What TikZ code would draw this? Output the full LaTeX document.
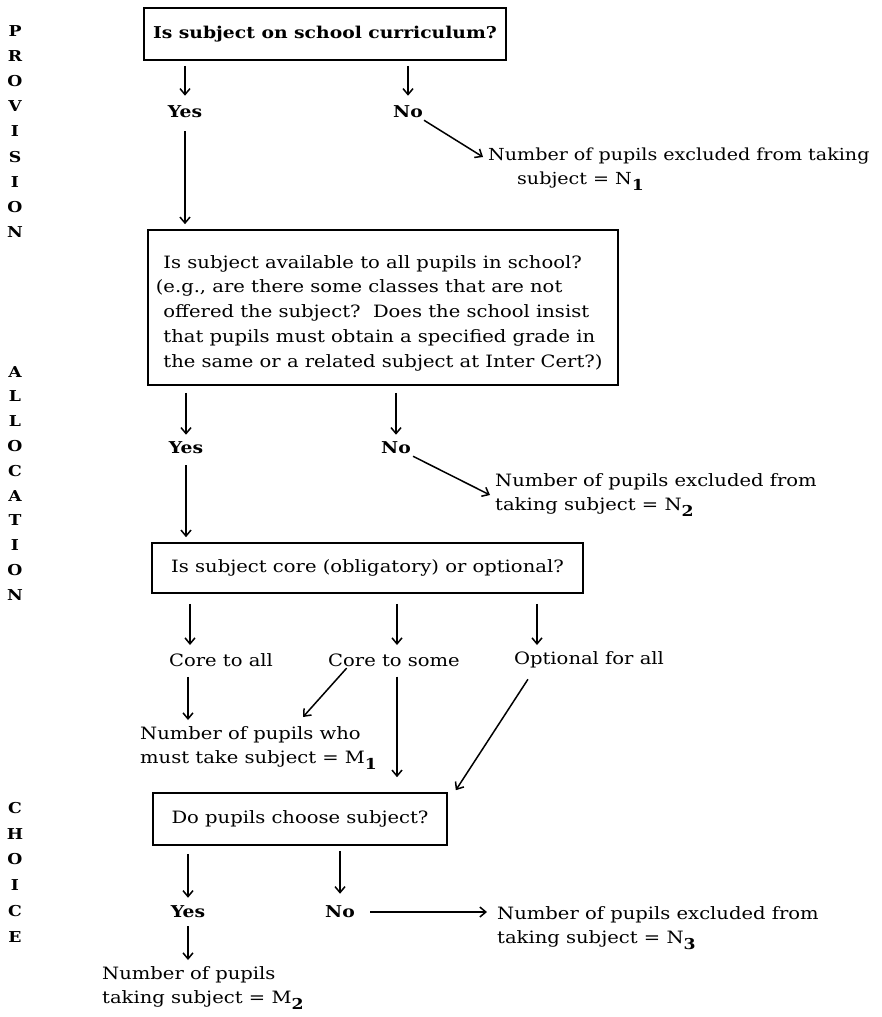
\documentclass[tikz,border=0pt]{standalone}
\usepackage{fontspec}
\setmainfont[FakeStretch=1.15]{DejaVu Serif}
\usetikzlibrary{arrows.meta,calc}
\newcommand{\subn}[1]{\raisebox{-6pt}{\fontsize{15}{15}\selectfont\bfseries #1}}
\tikzset{
  box/.style={draw,line width=1.6pt,inner sep=0pt,font=\fontsize{17}{24.75}\selectfont},
  lbl/.style={inner sep=0pt,font=\fontsize{16.3}{24}\selectfont\bfseries},
  plain/.style={inner sep=0pt,font=\fontsize{17}{24}\selectfont},
  txt/.style={inner sep=0pt,align=left,anchor=north west,font=\fontsize{17}{24}\selectfont},
  side/.style={inner sep=0pt,align=center,font=\fontsize{15}{#1}\selectfont\bfseries},
  arr/.style={line width=1.5pt,-{Straight Barb[length=6pt,width=10pt,line width=1.5pt]}}
}
\begin{document}
\begin{tikzpicture}[x=1pt,y=-1pt]
\useasboundingbox[fill=white] (0,0) rectangle (881,1017);
% side headings
\node[side=25.2pt,anchor=north] (prov) at (15,25) {P\\R\\O\\V\\I\\S\\I\\O\\N};
\node[side=24.8pt,anchor=north] (alloc) at (15,366) {A\\L\\L\\O\\C\\A\\T\\I\\O\\N};
\node[side=25.8pt,anchor=north] (choice) at (15,802) {C\\H\\O\\I\\C\\E};
% box 1
\node[box,minimum width=362pt,minimum height=52pt,font=\fontsize{16.3}{24}\selectfont\bfseries] (b1) at (325,34) {Is subject on school curriculum?};
\node[lbl] (yes1) at (185,112) {Yes};
\node[lbl] (no1) at (408,112) {No};
\node[txt,font=\fontsize{16.6}{24}\selectfont] (n1) at (488,148) {Number of pupils excluded from taking\\\hspace*{29pt}subject = N\subn{1}};
% box 2
\node[box,minimum width=470pt,minimum height=155pt,align=left] (b2) at (383,307.5)
 {\rule{0pt}{24pt}Is subject available to all pupils in school?\\
  \llap{(}e.g., are there some classes that are not\\
  offered the subject?\ \ Does the school insist\\
  that pupils must obtain a specified grade in\\
  the same or a related subject at Inter Cert?)};
\node[lbl] (yes2) at (186,448) {Yes};
\node[lbl] (no2) at (396,448) {No};
\node[txt] (n2) at (495,473) {Number of pupils excluded from\\taking subject = N\subn{2}};
% box 3
\node[box,minimum width=431pt,minimum height=50pt] (b3) at (367.5,568) {Is subject core (obligatory) or optional?};
\node[plain] (c1) at (221,660) {Core to all};
\node[plain] (c2) at (394,660) {Core to some};
\node[plain] (c3) at (589,660) {Optional for all};
\node[txt] (m1) at (140,726) {Number of pupils who\\must take subject = M\subn{1}};
% box 4
\node[box,minimum width=294pt,minimum height=52pt] (b4) at (300,819) {Do pupils choose subject?};
\node[lbl] (yes4) at (188,912) {Yes};
\node[lbl] (no4) at (340,912) {No};
\node[txt] (n3) at (497,906) {Number of pupils excluded from\\taking subject = N\subn{3}};
\node[txt] (m2) at (102,966) {Number of pupils\\taking subject = M\subn{2}};
% connectors
\draw[arr,shorten <=5pt,shorten >=10pt] (b1.south -| yes1.north) -- (yes1.north);
\draw[arr,shorten <=5pt,shorten >=10pt] (b1.south -| no1.north) -- (no1.north);
\draw[arr,shorten <=13pt,shorten >=5pt] (yes1.south) -- (yes1.south |- b2.north);
\draw[arr] ([xshift=1pt,yshift=-2pt]no1.south east) -- ([xshift=-5pt,yshift=-9pt]n1.north west);
\draw[arr,shorten <=7pt,shorten >=7pt] (b2.south -| yes2.north) -- (yes2.north);
\draw[arr,shorten <=7pt,shorten >=7pt] (b2.south -| no2.north) -- (no2.north);
\draw[arr,shorten <=11pt,shorten >=5pt] (yes2.south) -- (yes2.south |- b3.north);
\draw[arr] ([xshift=2pt,yshift=-2pt]no2.south east) -- ([xshift=-5pt,yshift=-22pt]n2.north west);
\coordinate (c1top) at (190,645);
\coordinate (c2top) at (397,645);
\coordinate (c3top) at (537,645);
\draw[arr,shorten <=10pt] (c1top |- b3.south) -- (c1top);
\draw[arr,shorten <=10pt] (c2top |- b3.south) -- (c2top);
\draw[arr,shorten <=10pt] (c3top |- b3.south) -- (c3top);
\coordinate (m1top) at (188,720);
\draw[arr,shorten <=10pt] (m1top |- c1.south) -- (m1top);
\draw[arr,shorten <=2pt] (c2.south -| 348,0) -- ([xshift=163pt,yshift=9pt]m1.north west);
\draw[arr,shorten <=10pt,shorten >=15pt] (c2.south -| 397,0) -- (b4.north -| 397,0);
\draw[arr,shorten <=13pt] (c3.south -| 535,0) -- ([xshift=8pt,yshift=2pt]b4.north east);
\draw[arr,shorten <=8pt,shorten >=8pt] (b4.south -| yes4.north) -- (yes4.north);
\draw[arr,shorten <=5pt,shorten >=12pt] (b4.south -| no4.north) -- (no4.north);
\draw[arr,shorten <=15pt] (no4.east) -- ([xshift=-10pt]n3.north west |- no4.east);
\draw[arr,shorten <=8pt,shorten >=6pt] (yes4.south) -- (yes4.south |- m2.north);
\end{tikzpicture}
\end{document}
